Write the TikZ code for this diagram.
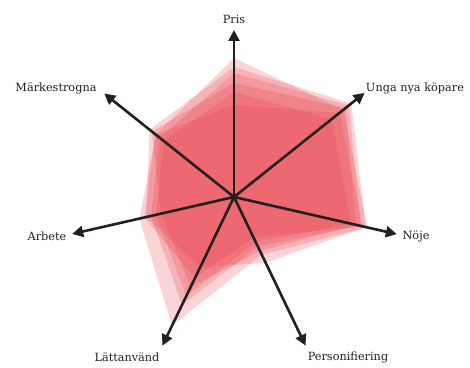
\documentclass[tikz,border=0pt]{standalone}
\usepackage{fontspec}
\setmainfont{DejaVu Serif}
\usetikzlibrary{arrows.meta}
\definecolor{polyred}{RGB}{232,60,72}
\definecolor{axisdark}{RGB}{35,31,32}
\tikzset{
  poly/.style={fill=polyred, fill opacity=0.22, draw=none},
  axisarrow/.style={draw=axisdark, line width=2.6pt, -{Triangle[length=11pt,width=11pt]}},
  lbl/.style={font=\fontsize{11.3}{13}\selectfont, text=axisdark, inner sep=0pt}
}
\newcommand\radarpoly[7]{\fill[poly] (90:#1pt) -- (38.571:#2pt) -- (-12.857:#3pt) -- (-64.286:#4pt) -- (-115.714:#5pt) -- (-167.143:#6pt) -- (141.429:#7pt) -- cycle;}
\begin{document}
\begin{tikzpicture}[x=1pt,y=1pt]
\useasboundingbox (0,0) rectangle (470,367);
\begin{scope}[shift={(234,170)}]
  \radarpoly{139}{140}{137}{64}{143}{97}{100}
  \radarpoly{130}{150}{135}{73}{78}{90}{108}
  \radarpoly{124}{147}{130}{55}{120}{85}{95}
  \radarpoly{114}{143}{125}{60}{100}{75}{105}
  \radarpoly{92}{135}{132}{45}{90}{92}{100}
  \radarpoly{105}{125}{120}{50}{110}{80}{90}
  \coordinate (c) at (0,0);
  \coordinate (t1) at (90:167pt);
  \coordinate (t2) at (38.571:167pt);
  \coordinate (t3) at (-12.857:167pt);
  \coordinate (t4) at (-64.286:165pt);
  \coordinate (t5) at (-115.714:165pt);
  \coordinate (t6) at (-167.143:166pt);
  \coordinate (t7) at (141.429:166pt);
\end{scope}
\foreach \t in {t1,t2,t3,t4,t5,t6,t7} \draw[axisarrow] (c) -- (\t);
\node[lbl] (pris) at (234,348) {Pris};
\node[lbl] (unga) at (415,279) {Unga nya köpare};
\node[lbl] (marke) at (56,279) {Märkestrogna};
\node[lbl] (arbete) at (47,131) {Arbete};
\node[lbl] (noje) at (416,131) {Nöje};
\node[lbl] (latt) at (127,10) {Lättanvänd};
\node[lbl] (pers) at (348,10) {Personifiering};
\end{tikzpicture}
\end{document}
